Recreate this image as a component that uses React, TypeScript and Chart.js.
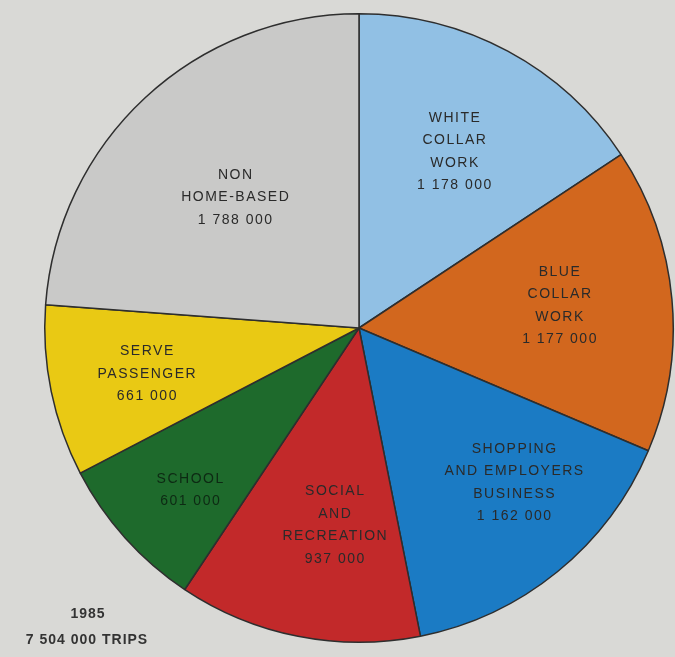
import React, { useEffect, useRef } from "react";
import { Chart, registerables } from "chart.js";

Chart.register(...registerables);

const categories: string[][] = [
  ["WHITE", "COLLAR", "WORK"],
  ["BLUE", "COLLAR", "WORK"],
  ["SHOPPING", "AND EMPLOYERS", "BUSINESS"],
  ["SOCIAL", "AND", "RECREATION"],
  ["SCHOOL"],
  ["SERVE", "PASSENGER"],
  ["NON", "HOME-BASED"],
];
const values: number[] = [1178000, 1177000, 1162000, 937000, 601000, 661000, 1788000];
const valueLabels: string[] = ["1 178 000", "1 177 000", "1 162 000", "937 000", "601 000", "661 000", "1 788 000"];
const colors: string[] = ["#91c0e4", "#d2671e", "#1b7bc4", "#c2292a", "#1e6a2c", "#e9c914", "#c9c9c8"];
const labelRadius: number[] = [0.64, 0.64, 0.68, 0.63, 0.74, 0.69, 0.58];
const labelShift: number[][] = [[0, 1], [0, -4], [20, -11], [14, 3], [4, 7], [0, 2], [0, 3]];
const yearLabel = "1985";
const totalLabel = "7 504 000 TRIPS";

const labelPlugin = {
  id: "sliceLabels",
  afterDatasetsDraw(chart: any) {
    const ctx = chart.ctx;
    const meta = chart.getDatasetMeta(0);
    ctx.save();
    ctx.font = "14px 'Liberation Sans', Arial, sans-serif";
    (ctx as any).letterSpacing = "1.5px";
    ctx.textAlign = "center";
    ctx.textBaseline = "middle";
    meta.data.forEach((arc: any, i: number) => {
      const p = arc.getProps(["x", "y", "startAngle", "endAngle", "outerRadius"], true);
      const mid = (p.startAngle + p.endAngle) / 2;
      const r = p.outerRadius * labelRadius[i];
      const cx = p.x + Math.cos(mid) * r + labelShift[i][0];
      const cy = p.y + Math.sin(mid) * r + labelShift[i][1];
      const lines = [...categories[i], valueLabels[i]];
      const lh = 22.5;
      const top = cy - ((lines.length - 1) * lh) / 2;
      ctx.fillStyle = i === 4 ? "rgba(10,30,15,0.85)" : "#2a2a2a";
      lines.forEach((t, k) => ctx.fillText(t, cx + 0.75, top + k * lh));
    });
    ctx.font = "bold 14px 'Liberation Sans', Arial, sans-serif";
    (ctx as any).letterSpacing = "1px";
    ctx.fillStyle = "#333";
    ctx.fillText(yearLabel, 88, 614);
    ctx.fillText(totalLabel, 87, 640);
    ctx.restore();
  },
};

export default function App() {
  const ref = useRef<HTMLCanvasElement>(null);
  useEffect(() => {
    if (!ref.current) return;
    const chart = new Chart(ref.current, {
      type: "pie",
      data: {
        labels: categories.map((c) => c.join(" ")),
        datasets: [
          {
            data: values,
            backgroundColor: colors,
            borderColor: "#2e2e2e",
            borderWidth: 1.5,
          },
        ],
      },
      options: {
        responsive: false,
        animation: false,
        devicePixelRatio: 1,
        layout: { padding: { left: 44, right: 1, top: 13, bottom: 14 } },
        plugins: {
          legend: { display: false },
          tooltip: { enabled: false },
        },
      },
      plugins: [labelPlugin],
    });
    return () => chart.destroy();
  }, []);
  return (
    <div style={{ position: "fixed", left: 0, top: 0, width: 675, height: 657, background: "#d9d9d6" }}>
      <canvas ref={ref} width={675} height={657} style={{ display: "block" }} />
    </div>
  );
}
